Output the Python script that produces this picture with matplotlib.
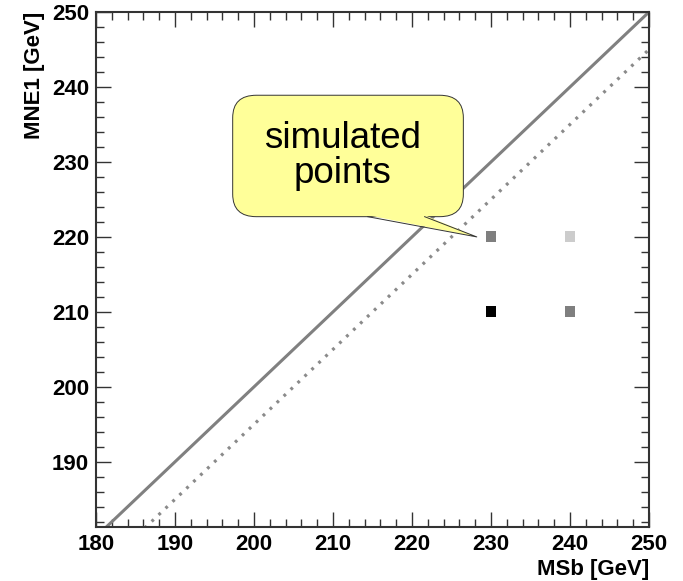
import matplotlib.pyplot as plt
from matplotlib.patches import FancyBboxPatch, Polygon

plt.rcParams['font.family'] = ['Liberation Sans', 'DejaVu Sans']

# simulated mass points (MSb, MNE1) and their relative weight
msb_points = [230, 240, 230, 240]
mne1_points = [220, 220, 210, 210]
weights = [0.5, 0.2, 1.0, 0.5]

# kinematic limits: MNE1 = MSb and MNE1 = MSb - 5
limit_x = [180, 250]
limit_solid = [180, 250]
limit_dotted = [175, 245]

x_ticks = [180, 190, 200, 210, 220, 230, 240, 250]
y_ticks = [190, 200, 210, 220, 230, 240, 250]

fig = plt.figure(figsize=(6.83, 5.81), dpi=100)
ax = fig.add_axes([0.1406, 0.0929, 0.8096, 0.8864])

ax.plot(limit_x, limit_solid, color='#808080', lw=2.2)
ax.plot(limit_x, limit_dotted, color='#8a8a8a', lw=2.3, ls=(0, (0.9, 2.1)))

ax.scatter(msb_points, mne1_points, c=weights, cmap='gray_r', vmin=0, vmax=1,
           marker='s', s=62, linewidths=0, zorder=3)

ax.set_xlim(180, 250)
ax.set_ylim(181.3, 250)
ax.set_xticks(x_ticks)
ax.set_yticks(y_ticks)
ax.set_xticks(range(182, 250, 2), minor=True)
ax.set_yticks(range(182, 250, 2), minor=True)
ax.tick_params(which='both', direction='in', top=True, right=True,
               colors='#333333', labelcolor='black', width=1.0)
ax.tick_params(which='major', length=11, labelsize=16, pad=5)
ax.tick_params(which='minor', length=5.5)
for lab in ax.get_xticklabels() + ax.get_yticklabels():
    lab.set_fontweight('bold')
for sp in ax.spines.values():
    sp.set_linewidth(1.5)
    sp.set_color('#333333')

ax.set_xlabel('MSb [GeV]', fontsize=16, fontweight='bold', loc='right', labelpad=3)
ax.set_ylabel('MNE1 [GeV]', fontsize=16, fontweight='bold', loc='top', labelpad=5)

# speech bubble callout
yellow = '#ffff99'
box = FancyBboxPatch((197.3, 222.7), 29.2, 16.2,
                     boxstyle='round,pad=0,rounding_size=3.0',
                     fc=yellow, ec='#333333', lw=0.7, zorder=4)
ax.add_patch(box)
tail = Polygon([(214.4, 222.9), (228.2, 220.0), (221.6, 222.9)],
               closed=True, fc=yellow, ec='none', zorder=5)
ax.add_patch(tail)
ax.plot([214.4, 228.2, 221.6], [222.7, 220.0, 222.7], color='#333333', lw=0.7, zorder=6)
ax.text(211.2, 230.8, 'simulated\npoints', fontsize=26.5, ha='center', va='center',
        linespacing=1.0, zorder=7)

fig.savefig('out.png', dpi=100)
